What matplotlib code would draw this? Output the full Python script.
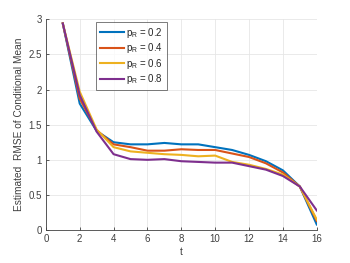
import matplotlib
matplotlib.use('Agg')
import matplotlib.pyplot as plt

t = list(range(1, 17))
rmse_02 = [2.94, 1.80, 1.41, 1.25, 1.22, 1.22, 1.24, 1.22, 1.22, 1.18, 1.14, 1.07, 0.98, 0.85, 0.62, 0.08]
rmse_04 = [2.94, 1.87, 1.42, 1.22, 1.18, 1.13, 1.13, 1.15, 1.14, 1.14, 1.09, 1.04, 0.95, 0.82, 0.62, 0.13]
rmse_06 = [2.94, 1.97, 1.43, 1.18, 1.12, 1.10, 1.08, 1.07, 1.05, 1.06, 0.97, 0.93, 0.87, 0.79, 0.62, 0.15]
rmse_08 = [2.94, 1.92, 1.40, 1.08, 1.01, 1.00, 1.01, 0.98, 0.97, 0.96, 0.96, 0.91, 0.86, 0.77, 0.62, 0.28]
labels = ['$\\mathrm{p_R}$ = 0.2', '$\\mathrm{p_R}$ = 0.4', '$\\mathrm{p_R}$ = 0.6', '$\\mathrm{p_R}$ = 0.8']
colors = ['#0072BD', '#D95319', '#EDB120', '#7E2F8E']

plt.rcParams['font.family'] = ['Liberation Sans', 'DejaVu Sans']
plt.rcParams['mathtext.fontset'] = 'custom'
plt.rcParams['mathtext.rm'] = 'Liberation Sans'

fig = plt.figure(figsize=(3.5, 2.63), dpi=100)
ax = fig.add_axes([0.131, 0.125, 0.774, 0.802])

for ys, lab, c in zip([rmse_02, rmse_04, rmse_06, rmse_08], labels, colors):
    ax.plot(t, ys, color=c, lw=1.5, label=lab)

ax.set_xlim(0, 16)
ax.set_ylim(0, 3)
ax.set_xticks(range(0, 17, 2))
ax.set_yticks([0, 0.5, 1, 1.5, 2, 2.5, 3])
ax.set_yticklabels(['0', '0.5', '1', '1.5', '2', '2.5', '3'])
ax.grid(True, color='#e6e6e6', lw=0.6)
ax.set_axisbelow(True)
ax.spines['top'].set_visible(False)
ax.spines['right'].set_visible(False)
for s in ['left', 'bottom']:
    ax.spines[s].set_color('#404040')
    ax.spines[s].set_linewidth(0.6)
ax.tick_params(labelsize=7, colors='#404040', width=0.6, length=2, direction='in', pad=3)
ax.set_xlabel('t', fontsize=7.3, color='#404040', labelpad=2)
ax.set_ylabel('Estimated  RMSE of Conditional Mean', fontsize=7.3, color='#404040', labelpad=3)

leg = ax.legend(loc='upper left', bbox_to_anchor=(0.185, 0.987), borderaxespad=0, fontsize=7,
                frameon=True, fancybox=False, edgecolor='#404040', handlelength=2.5,
                handletextpad=0.2, labelspacing=0.15, borderpad=0.4)
leg.get_frame().set_linewidth(0.6)
for txt in leg.get_texts():
    txt.set_color('#262626')

fig.savefig('out.png', dpi=100)
